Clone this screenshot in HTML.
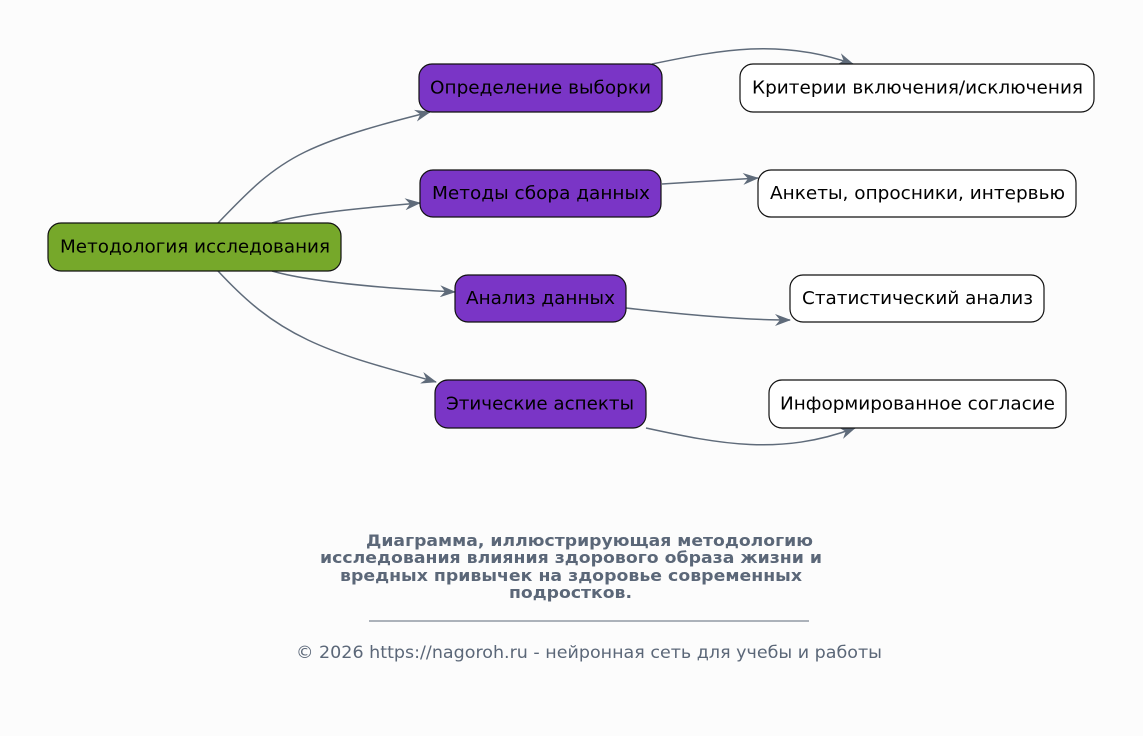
<!DOCTYPE html>
<html><head><meta charset="utf-8"><style>
html,body{margin:0;padding:0;background:#fcfcfc;}
svg{display:block;font-family:"DejaVu Sans","Liberation Sans",sans-serif;}
</style></head><body>
<svg width="1143" height="736" viewBox="0 0 1143 736" xmlns="http://www.w3.org/2000/svg">
<defs>
<marker id="a" viewBox="0 0 16 12" refX="15" refY="6" markerWidth="16" markerHeight="12" markerUnits="userSpaceOnUse" orient="auto">
<path d="M0,0 L16,6 L0,12 L5,6 Z" fill="#5f6b7a"/>
</marker>
</defs>
<rect width="1143" height="736" fill="#fcfcfc"/>
<g fill="none" stroke="#5f6b7a" stroke-width="1.5" marker-end="url(#a)">
<path d="M218,223 C245,195 268,170 305,152 C340,135 390,122 430,112"/>
<path d="M272,223 C300,214 360,208 420,203"/>
<path d="M272,271 C310,282 380,288 455,292"/>
<path d="M218,271 C245,300 270,322 308,340 C348,359 395,370 436,382"/>
<path d="M652,64 C720,50 780,38 853,64"/>
<path d="M662,184 L758,178"/>
<path d="M626,308 C680,314 740,320 790,320"/>
<path d="M646,428 C720,444 780,456 855,428"/>
</g>
<g stroke="#111" stroke-width="1.2">
<rect x="48" y="223" width="293" height="48" rx="13" fill="#76a82a"/>
<rect x="419" y="64" width="243" height="48" rx="13" fill="#7a35c6"/>
<rect x="420" y="170" width="241" height="47" rx="13" fill="#7a35c6"/>
<rect x="455" y="275" width="171" height="47" rx="13" fill="#7a35c6"/>
<rect x="435" y="380" width="211" height="48" rx="13" fill="#7a35c6"/>
<rect x="740" y="64" width="354" height="48" rx="13" fill="#fff"/>
<rect x="758" y="170" width="318" height="47" rx="13" fill="#fff"/>
<rect x="790" y="275" width="254" height="47" rx="13" fill="#fff"/>
<rect x="769" y="380" width="297" height="48" rx="13" fill="#fff"/>
</g>
<g font-size="17.5" fill="#000" text-anchor="middle" lengthAdjust="spacingAndGlyphs">
<text x="195" y="252.5" textLength="270" lengthAdjust="spacingAndGlyphs">Методология исследования</text>
<text x="540.5" y="93.5" textLength="221" lengthAdjust="spacingAndGlyphs">Определение выборки</text>
<text x="541" y="199" textLength="218" lengthAdjust="spacingAndGlyphs">Методы сбора данных</text>
<text x="540.5" y="304" textLength="149" lengthAdjust="spacingAndGlyphs">Анализ данных</text>
<text x="540" y="409.5" textLength="188" lengthAdjust="spacingAndGlyphs">Этические аспекты</text>
<text x="917.5" y="93.5" textLength="331" lengthAdjust="spacingAndGlyphs">Критерии включения/исключения</text>
<text x="917.5" y="199" textLength="295" lengthAdjust="spacingAndGlyphs">Анкеты, опросники, интервью</text>
<text x="917.5" y="304" textLength="231" lengthAdjust="spacingAndGlyphs">Статистический анализ</text>
<text x="917.5" y="409.5" textLength="275" lengthAdjust="spacingAndGlyphs">Информированное согласие</text>
</g>
<g font-size="16" font-weight="bold" fill="#5b6778" text-anchor="middle">
<text x="589.5" y="546" textLength="447" lengthAdjust="spacingAndGlyphs">Диаграмма, иллюстрирующая методологию</text>
<text x="571" y="563" textLength="502" lengthAdjust="spacingAndGlyphs">исследования влияния здорового образа жизни и</text>
<text x="571" y="581" textLength="462" lengthAdjust="spacingAndGlyphs">вредных привычек на здоровье современных</text>
<text x="570.5" y="598" textLength="123" lengthAdjust="spacingAndGlyphs">подростков.</text>
</g>
<line x1="369" y1="621" x2="809" y2="621" stroke="#5b6778" stroke-width="1"/>
<text x="589" y="658" font-size="17" fill="#5b6778" text-anchor="middle" textLength="586" lengthAdjust="spacingAndGlyphs">© 2026 https://nagoroh.ru - нейронная сеть для учебы и работы</text>
</svg>
</body></html>
